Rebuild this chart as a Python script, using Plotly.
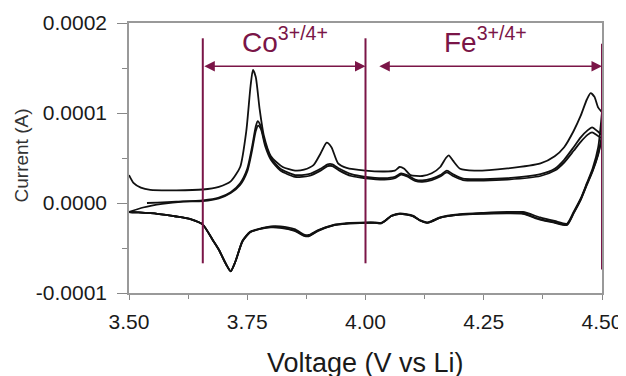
import plotly.graph_objects as go

# ---------------- data (current in microamps, converted to A when plotted) ----------------
v_an1 = [3.500, 3.510, 3.525, 3.545, 3.600, 3.656, 3.690, 3.715, 3.735, 3.748, 3.757, 3.762, 3.768,
         3.776, 3.785, 3.800, 3.825, 3.851, 3.870, 3.890, 3.905, 3.918, 3.928, 3.942, 3.960, 4.000,
         4.040, 4.062, 4.072, 4.082, 4.095, 4.120, 4.140, 4.158, 4.170, 4.176, 4.185, 4.200, 4.230,
         4.300, 4.370, 4.400, 4.420, 4.440, 4.455, 4.468, 4.476, 4.484, 4.492, 4.500]
i_an1 = [31, 22, 17, 14.5, 14, 15, 18, 24, 40, 80, 130, 148, 140,
         105, 75, 52, 40, 36, 37, 42, 55, 67, 62, 44, 39, 36,
         35, 36, 40, 38, 31, 30, 33, 40, 50, 53, 47, 38, 36,
         38.5, 44, 52, 62, 80, 97, 115, 122, 118, 106, 101]

v_an2 = [3.538, 3.560, 3.600, 3.656, 3.690, 3.715, 3.735, 3.750, 3.760, 3.768, 3.772, 3.778, 3.788,
         3.800, 3.820, 3.851, 3.880, 3.905, 3.920, 3.930, 3.945, 3.970, 4.000, 4.040, 4.062, 4.075,
         4.088, 4.105, 4.120, 4.140, 4.158, 4.172, 4.185, 4.206, 4.250, 4.300, 4.370, 4.400, 4.420,
         4.440, 4.455, 4.470, 4.479, 4.490, 4.500]
i_an2 = [0, 0.5, 1.5, 3, 6, 12, 22, 38, 62, 85, 91, 86, 66,
         50, 38, 31, 32, 38, 43, 43, 38, 32, 29, 27.5, 29, 33,
         31, 26, 25, 27, 31, 36, 32, 27, 26.5, 27.5, 32, 38, 48,
         62, 73, 81, 84, 80, 75]

v_an3 = [3.500, 3.530, 3.570, 3.615, 3.656, 3.690, 3.715, 3.735, 3.750, 3.760, 3.768, 3.773, 3.779,
         3.788, 3.800, 3.820, 3.851, 3.880, 3.905, 3.920, 3.930, 3.945, 3.970, 4.000, 4.040, 4.062,
         4.075, 4.088, 4.105, 4.120, 4.140, 4.158, 4.172, 4.185, 4.206, 4.250, 4.300, 4.370, 4.400,
         4.420, 4.440, 4.455, 4.470, 4.479, 4.490, 4.500]
i_an3 = [-10, -5, -1, 1.5, 2, 5, 11, 20, 35, 58, 80, 86, 82,
         63, 48, 36, 29, 30, 36, 41, 41, 36, 30, 27.5, 26, 27.5,
         31.5, 29.5, 24.5, 23.5, 25.5, 29.5, 34, 30, 25.5, 25, 26, 30, 36,
         45, 58, 68, 76, 78.5, 75, 72]

v_cat = [4.500, 4.492, 4.480, 4.468, 4.455, 4.440, 4.426, 4.400, 4.369, 4.333, 4.300, 4.250, 4.200,
         4.157, 4.140, 4.130, 4.115, 4.100, 4.073, 4.055, 4.040, 4.033, 4.020, 4.000, 3.960, 3.931,
         3.900, 3.880, 3.870, 3.850, 3.820, 3.800, 3.780, 3.756, 3.740, 3.725, 3.715, 3.705, 3.690,
         3.678, 3.656, 3.630, 3.600, 3.560, 3.520, 3.500]
i_cat1 = [101, 62, 38, 22, 5, -10, -23, -20, -16, -10, -10, -11, -12.5,
          -16, -20, -21.5, -19, -14, -11.5, -14, -20, -22, -21.5, -21.5, -22.5, -24.5,
          -30, -35.5, -35, -29, -26, -26, -28, -32, -42, -65, -76, -68, -52,
          -42, -24, -18, -15, -12, -10.5, -10]
i_cat2 = [75, 55, 36, 21, 4, -11, -24, -21.5, -18, -11.5, -11, -11.5, -13,
          -16.5, -20.5, -22, -19.5, -14.5, -12, -14.5, -20.5, -22.5, -22, -22, -23, -25,
          -31, -37, -36.5, -31, -27.5, -27, -28.5, -32.5, -42.5, -65, -75.5, -67.5, -52,
          -42, -24, -18, -15, -12, -10.5, -10]
i_cat3 = [72, 54, 35, 20, 3.5, -11.5, -24.5, -22, -18.5, -12, -11.5, -12, -13,
          -16.5, -20.5, -22, -19.5, -14.5, -12, -14.5, -20.5, -22.5, -22, -22, -23, -25,
          -30.5, -36.5, -36, -30.5, -27, -26.5, -28.5, -32.5, -42.5, -65, -76, -68, -52,
          -42, -24, -18, -15, -12, -10.5, -10]

region_bounds = [3.656, 4.00, 4.50]
region_labels = ["Co<sup>3+/4+</sup>", "Fe<sup>3+/4+</sup>"]
x_tick_vals = [3.50, 3.75, 4.00, 4.25, 4.50]
y_tick_vals = [-0.0001, 0.0000, 0.0001, 0.0002]

# ---------------- figure ----------------
MAROON = "#7a1547"
FONT = "Liberation Sans, Arial"
UA = 1e-6
fig = go.Figure()
for v, i in [(v_an1, i_an1), (v_an2, i_an2), (v_an3, i_an3),
             (v_cat, i_cat1), (v_cat, i_cat2), (v_cat, i_cat3)]:
    fig.add_trace(go.Scatter(x=v, y=[c * UA for c in i], mode="lines",
                             line=dict(color="#111111", width=1.8, shape="spline", smoothing=0.6),
                             showlegend=False, hoverinfo="skip"))

# vertical boundary lines
line_spans = [(183, -67), (183, -67), (177, -74)]
for xb, (ytop, ybot) in zip(region_bounds, line_spans):
    fig.add_shape(type="line", xref="x", yref="y", x0=xb, x1=xb, y0=ybot * UA, y1=ytop * UA,
                  line=dict(color=MAROON, width=2))

# double-headed arrows
arrow_y = 152 * UA
for x0, x1 in [(region_bounds[0], region_bounds[1]), (4.026, region_bounds[2])]:
    fig.add_annotation(x=x1, y=arrow_y, ax=x0, ay=arrow_y, xref="x", yref="y", axref="x", ayref="y",
                       text="", showarrow=True, arrowhead=2, startarrowhead=2, arrowside="end+start",
                       arrowsize=1.4, startarrowsize=1.4, arrowwidth=1.5, arrowcolor=MAROON,
                       standoff=0, startstandoff=0)

# labels
for xc, lab in zip([3.830, 4.253], region_labels):
    fig.add_annotation(x=xc, y=181 * UA, xref="x", yref="y", text=lab, showarrow=False,
                       font=dict(family=FONT, size=28, color=MAROON),
                       xanchor="center", yanchor="middle")

# axis titles
fig.add_annotation(x=0.5, y=-0.258, xref="paper", yref="paper", text="Voltage (V vs Li)",
                   showarrow=False, font=dict(family=FONT, size=27, color="#1a1a1a"),
                   xanchor="center", yanchor="middle")
fig.add_annotation(x=-0.228, y=0.51, xref="paper", yref="paper", text="Current (A)", textangle=-90,
                   showarrow=False, font=dict(family=FONT, size=19, color="#333333"),
                   xanchor="center", yanchor="middle")

axis_font = dict(family=FONT, size=21, color="#1a1a1a")
fig.update_xaxes(range=[3.5, 4.5], tickvals=x_tick_vals, ticktext=[f"{t:.2f}" for t in x_tick_vals],
                 ticks="outside", ticklen=5, tickwidth=1.3, tickcolor="#888888", automargin=False,
                 minor=dict(ticks="outside", ticklen=4, tickwidth=1.3, tickcolor="#888888", dtick=0.125, tick0=3.5),
                 showline=True, linecolor="#999999", linewidth=1.5, mirror=True,
                 showgrid=False, zeroline=False, tickfont=axis_font, ticklabelstandoff=4)
fig.update_yaxes(range=[-0.0001, 0.0002], tickvals=y_tick_vals, ticktext=[f"{t:.4f}" for t in y_tick_vals],
                 ticks="outside", ticklen=10, tickwidth=1.3, tickcolor="#888888", automargin=False,
                 minor=dict(ticks="outside", ticklen=5, tickwidth=1.3, tickcolor="#888888", dtick=0.00005, tick0=0),
                 showline=True, linecolor="#999999", linewidth=1.5, mirror=True,
                 showgrid=False, zeroline=False, tickfont=axis_font, ticklabelstandoff=6)
# the page body adds an 8px offset, so the figure is 8px smaller and margins are shifted
fig.update_layout(width=618, height=368, margin=dict(l=121, r=24, t=15, b=83),
                  paper_bgcolor="white", plot_bgcolor="white")
fig.write_html("out.html")
